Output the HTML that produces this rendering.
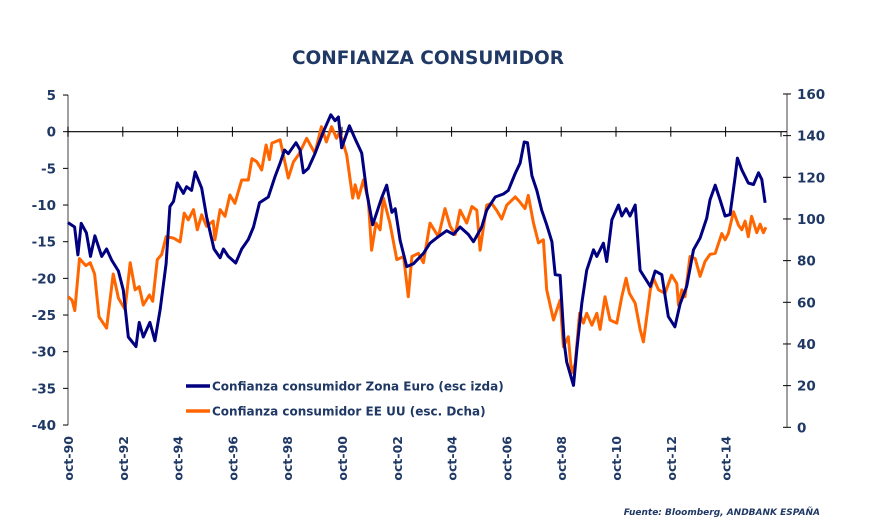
<!DOCTYPE html>
<html><head><meta charset="utf-8">
<style>
html,body{margin:0;padding:0;background:#fff;}
body{width:879px;height:527px;overflow:hidden;font-family:"DejaVu Sans","Liberation Sans",sans-serif;}
</style></head>
<body>
<svg id="chart" width="879" height="527" viewBox="0 0 879 527" xmlns="http://www.w3.org/2000/svg" font-family="DejaVu Sans, Liberation Sans, sans-serif">
<text x="428" y="64" text-anchor="middle" font-size="18.5" font-weight="bold" fill="#1f3864">CONFIANZA CONSUMIDOR</text>
<g id="axes"></g>
<g id="series"></g>
<g>
 <line x1="186" y1="386" x2="210" y2="386" stroke="#000080" stroke-width="3.5"/>
 <text x="212" y="390.5" font-size="12" font-weight="bold" fill="#1f3864">Confianza consumidor Zona Euro (esc izda)</text>
 <line x1="186" y1="411" x2="210" y2="411" stroke="#ff6600" stroke-width="3.5"/>
 <text x="212" y="415.5" font-size="12" font-weight="bold" fill="#1f3864">Confianza consumidor EE UU (esc. Dcha)</text>
</g>
<text x="820" y="515" text-anchor="end" font-size="9" font-weight="bold" font-style="italic" fill="#1f3864">Fuente: Bloomberg, ANDBANK ESPAÑA</text>
</svg>
<script>
const leftTicks=[5,0,-5,-10,-15,-20,-25,-30,-35,-40];
const rightTicks=[160,140,120,100,80,60,40,20,0];
const xTickLabels=["oct-90","oct-92","oct-94","oct-96","oct-98","oct-00","oct-02","oct-04","oct-06","oct-08","oct-10","oct-12","oct-14"];
const xTickYears=[1990.75,1992.75,1994.75,1996.75,1998.75,2000.75,2002.75,2004.75,2006.75,2008.75,2010.75,2012.75,2014.75];
const euroDates=[1990.75,1990.99,1991.11,1991.23,1991.42,1991.57,1991.73,1991.98,1992.16,1992.34,1992.59,1992.77,1992.95,1993.23,1993.35,1993.5,1993.74,1993.92,1994.11,1994.33,1994.47,1994.6,1994.74,1994.96,1995.08,1995.26,1995.39,1995.63,1995.81,1996.08,1996.3,1996.42,1996.6,1996.87,1997.09,1997.33,1997.52,1997.74,1998.06,1998.31,1998.49,1998.65,1998.79,1999.07,1999.22,1999.34,1999.52,1999.76,2000.07,2000.34,2000.5,2000.62,2000.74,2001.02,2001.23,2001.47,2001.66,2001.87,2002.2,2002.38,2002.57,2002.69,2002.87,2003.11,2003.36,2003.72,2003.96,2004.27,2004.57,2004.82,2005.06,2005.36,2005.55,2005.85,2006.03,2006.34,2006.64,2006.82,2007.07,2007.25,2007.4,2007.52,2007.68,2007.86,2008.04,2008.22,2008.41,2008.53,2008.71,2008.86,2008.95,2009.2,2009.32,2009.5,2009.68,2009.93,2010.05,2010.29,2010.41,2010.6,2010.84,2010.96,2011.12,2011.26,2011.45,2011.63,2012.0,2012.18,2012.42,2012.66,2012.9,2013.09,2013.33,2013.58,2013.82,2014.06,2014.18,2014.37,2014.55,2014.73,2014.91,2015.1,2015.18,2015.34,2015.58,2015.77,2015.95,2016.07,2016.19];
const euroValues=[-12.4,-13,-16.8,-12.5,-13.8,-17,-14.2,-17,-16,-17.5,-19,-21.6,-28,-29.3,-26,-28,-26,-28.5,-24.3,-18,-10.2,-9.5,-7,-8.4,-7.5,-8,-5.5,-7.7,-11.6,-16,-17.2,-16,-17,-17.9,-16,-14.7,-13,-9.7,-8.9,-6.1,-4.3,-2.5,-3,-1.5,-2.5,-5.6,-5,-3,0,2.3,1.5,2,-2.2,0.8,-1,-2.9,-8.4,-12.7,-9,-7.3,-11,-10.5,-14.8,-18.4,-18,-16.6,-15.2,-14.3,-13.5,-14,-13,-14,-15,-13,-10.7,-8.9,-8.5,-8,-5.7,-4.3,-1.4,-1.5,-6,-8,-10.7,-12.7,-15,-19.5,-19.6,-28.8,-31.4,-34.6,-29.8,-23.4,-18.9,-16.1,-17,-15.2,-17.7,-12,-10,-11.5,-10.5,-11.5,-10,-18.9,-21.1,-19,-19.5,-25.2,-26.6,-23.5,-21.1,-16.1,-14.5,-11.8,-9.3,-7.3,-9.3,-11.5,-11.3,-6.1,-3.6,-5.2,-7,-7.2,-5.6,-6.5,-9.7];
const usDates=[1990.75,1990.9,1991.0,1991.17,1991.4,1991.56,1991.72,1991.88,1992.16,1992.4,1992.59,1992.83,1993.02,1993.2,1993.35,1993.5,1993.72,1993.84,1994.01,1994.17,1994.33,1994.6,1994.84,1994.99,1995.14,1995.33,1995.47,1995.63,1995.81,1996.05,1996.11,1996.3,1996.48,1996.66,1996.84,1997.09,1997.33,1997.46,1997.64,1997.82,1997.98,1998.1,1998.19,1998.49,1998.79,1998.98,1999.16,1999.46,1999.76,2000.0,2000.18,2000.37,2000.55,2000.67,2000.92,2001.14,2001.23,2001.35,2001.53,2001.71,2001.83,2001.99,2002.14,2002.26,2002.5,2002.75,2003.0,2003.17,2003.3,2003.54,2003.72,2003.96,2004.27,2004.51,2004.7,2004.88,2005.06,2005.3,2005.49,2005.67,2005.79,2006.03,2006.21,2006.4,2006.58,2006.76,2007.07,2007.25,2007.43,2007.55,2007.74,2007.92,2008.1,2008.22,2008.47,2008.71,2008.83,2009.01,2009.13,2009.26,2009.42,2009.56,2009.68,2009.87,2010.05,2010.17,2010.35,2010.53,2010.78,2010.96,2011.12,2011.24,2011.45,2011.63,2011.75,2012.0,2012.12,2012.3,2012.54,2012.78,2012.97,2013.03,2013.15,2013.27,2013.45,2013.64,2013.82,2014.0,2014.18,2014.37,2014.61,2014.73,2014.85,2015.04,2015.22,2015.34,2015.46,2015.58,2015.7,2015.89,2016.01,2016.13,2016.22];
const usValues=[62.7,61,56,81,77.6,79,73.6,53,47.6,73.6,62,56.6,79,66,67.5,58.7,63.5,60.5,80.5,83,91.5,90.8,89,102.8,99.6,104.5,94.8,102,96.5,99,90,104.5,101.3,111.5,107.5,118.7,118.7,129,127.5,123.5,135.5,128.5,136.4,138,119.6,127.5,130.7,138.7,131.5,144.3,137,144.3,138.7,141.8,130.7,110,116.4,110,118.7,109,85,98,94.8,110,98,80.5,82,62.7,82,83.5,79,98,91.5,105,96.5,92.6,104.2,98,106,104.2,85,106.6,107.5,104,100,106.6,110.6,108,105,111.3,98,88.5,90,66,51.5,61,38.7,43.5,26,30.6,54.7,50,54.7,49,54.7,47,62.7,51.5,50,62.7,71.5,64.3,59.5,47,41,66,71.5,66,64.3,73,69,58.7,66,62.7,82,81,72.5,79.6,83,83.5,93,90,93,103.5,97,94.8,99,91.5,101.3,93.4,97.5,93.4,96];

const NS="http://www.w3.org/2000/svg";
const X0=68,X1=787,T0=1990.75,PXY=27.4;
const xs=t=>X0+(t-T0)*PXY;
const yL=v=>131.7-v*7.333;
const yR=v=>427.3-v*2.0833;
const axes=document.getElementById('axes');
const series=document.getElementById('series');
function mk(tag,attrs,parent){const e=document.createElementNS(NS,tag);for(const k in attrs)e.setAttribute(k,attrs[k]);parent.appendChild(e);return e;}
const ink="#1f3864";
let e;
e=mk('line',{x1:X0,y1:yL(5),x2:X0,y2:yL(-40),stroke:'#808080','stroke-width':1.5},axes);


e=mk('line',{x1:X1,y1:yR(160),x2:X1,y2:yR(0),stroke:'#808080','stroke-width':1.5},axes);


e=mk('line',{x1:X0,y1:yL(0),x2:X1,y2:yL(0),stroke:'#000','stroke-width':1.2},axes);


leftTicks.forEach(v=>{
 mk('line',{x1:X0-5,y1:yL(v),x2:X0,y2:yL(v),stroke:'#000','stroke-width':1},axes);
 e=mk('text',{x:56,y:yL(v)+5,'text-anchor':'end','font-size':13.5,'font-weight':'bold',fill:ink},axes);
 e.textContent=v;
 
 
});
rightTicks.forEach(v=>{
 mk('line',{x1:X1-4,y1:yR(v),x2:X1+4,y2:yR(v),stroke:'#000','stroke-width':1},axes);
 e=mk('text',{x:797,y:yR(v)+5,'text-anchor':'start','font-size':13.5,'font-weight':'bold',fill:ink},axes);
 e.textContent=v;
 
 
});
xTickYears.forEach((t,i)=>{
 const x=xs(t);
 mk('line',{x1:x,y1:yL(0)-5,x2:x,y2:yL(0)+5,stroke:'#000','stroke-width':1},axes);
 e=mk('text',{x:0,y:0,'text-anchor':'end','font-size':12.5,'font-weight':'bold',fill:ink,transform:`translate(${x+5},436) rotate(-90)`},axes);
 e.textContent=xTickLabels[i];
 
 
});
mk('line',{x1:X1-6,y1:yL(0),x2:X1-6,y2:yL(0)+5,stroke:'#000'},axes);
function path(dates,vals,yf,col,name){
 const d=dates.map((t,i)=>(i?'L':'M')+xs(t).toFixed(1)+' '+yf(vals[i]).toFixed(1)).join(' ');
 const p=mk('path',{d:d,fill:'none',stroke:col,'stroke-width':3,'stroke-linejoin':'round'},series);
 
 
}
path(usDates,usValues,yR,'#ff6600','us-confidence-line');
path(euroDates,euroValues,yL,'#000080','euro-confidence-line');
</script>
</body></html>
